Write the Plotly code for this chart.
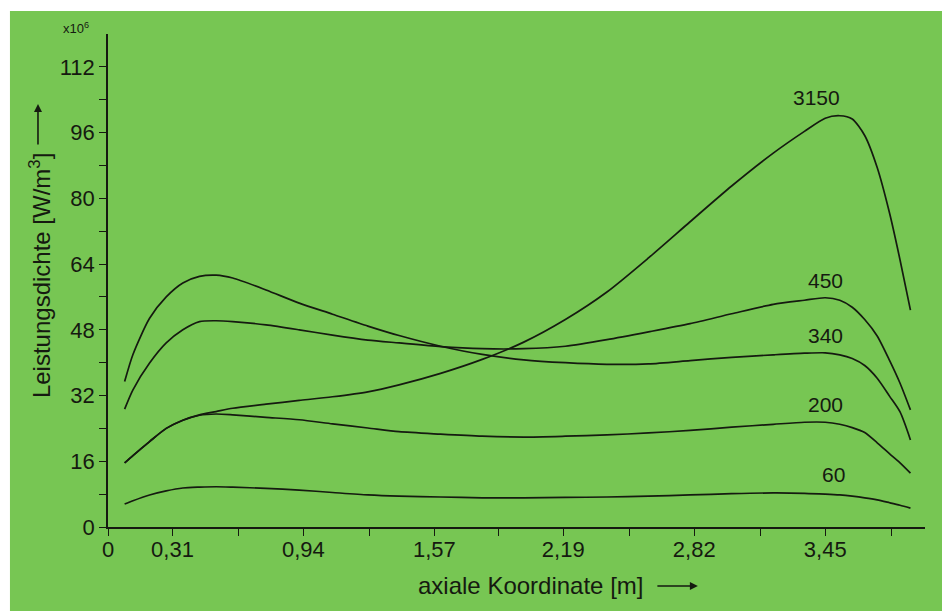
import plotly.graph_objects as go

# axial coordinate [m]
x = [0.08, 0.12, 0.20, 0.28, 0.36, 0.44, 0.52, 0.60, 0.76, 0.92, 1.08, 1.25, 1.40,
     1.60, 1.80, 2.00, 2.20, 2.40, 2.60, 2.80, 3.00, 3.20, 3.35, 3.45, 3.52, 3.58,
     3.64, 3.70, 3.76, 3.81, 3.86]

# power density [x10^6 W/m^3]
y_3150 = [15.6, 17.4, 20.8, 24.0, 26.0, 27.3, 28.1, 28.9, 29.9, 30.8, 31.7, 32.9, 34.6,
          37.4, 40.8, 45.0, 50.5, 57.2, 65.5, 74.3, 83.0, 91.0, 96.3, 99.5, 100.1, 99.3,
          95.3, 87.5, 76.3, 65.0, 52.8]
y_450 = [28.7, 33.4, 39.9, 44.8, 48.0, 50.0, 50.2, 50.0, 49.2, 48.0, 46.7, 45.5, 44.8,
         43.9, 43.4, 43.4, 44.0, 45.6, 47.5, 49.5, 51.9, 54.2, 55.2, 55.8, 55.2, 53.5,
         50.5, 46.5, 40.5, 35.0, 28.5]
y_340 = [35.4, 42.0, 50.8, 56.0, 59.4, 61.0, 61.3, 60.6, 57.7, 54.5, 51.8, 48.9, 46.6,
         44.0, 42.0, 40.7, 40.0, 39.6, 39.7, 40.5, 41.3, 41.9, 42.3, 42.4, 41.9, 41.0,
         39.3, 36.2, 31.8, 28.0, 21.2]
y_200 = [15.6, 17.4, 20.8, 24.0, 26.0, 27.2, 27.5, 27.3, 26.7, 26.1, 25.1, 24.1, 23.2,
         22.6, 22.1, 21.9, 22.1, 22.4, 22.9, 23.5, 24.3, 25.0, 25.5, 25.5, 25.0, 24.2,
         23.0, 20.5, 17.8, 15.6, 13.1]
y_60 = [5.6, 6.4, 7.8, 8.8, 9.5, 9.7, 9.8, 9.7, 9.4, 9.0, 8.4, 7.8, 7.5,
        7.3, 7.1, 7.1, 7.2, 7.3, 7.5, 7.8, 8.1, 8.3, 8.2, 8.0, 7.8, 7.5,
        7.1, 6.6, 5.9, 5.3, 4.6]

series_names = ["3150", "450", "340", "200", "60"]
series_values = [y_3150, y_450, y_340, y_200, y_60]

x_tickvals = [0, 0.31, 0.94, 1.57, 2.19, 2.82, 3.45]
x_ticktext = ["0", "0,31", "0,94", "1,57", "2,19", "2,82", "3,45"]
x_minorvals = [0.63, 1.26, 1.88, 2.51, 3.14, 3.77]
y_tickvals = [0, 16, 32, 48, 64, 80, 96, 112]
y_minorvals = [8, 24, 40, 56, 72, 88, 104]

# label anchor positions (data coords)
label_pos = {"3150": (3.41, 104.5), "450": (3.45, 60.1), "340": (3.45, 46.7),
             "200": (3.45, 29.7), "60": (3.49, 12.7)}

GREEN = "rgb(119,198,83)"
INK = "#151a10"
FONT = "Liberation Sans, Arial, Helvetica, sans-serif"

fig = go.Figure()
for name, vals in zip(series_names, series_values):
    fig.add_trace(go.Scatter(x=x, y=vals, mode="lines", name=name,
                             line=dict(color=INK, width=1.7, shape="spline", smoothing=0.7),
                             showlegend=False, hoverinfo="skip"))

annotations = []
for name in series_names:
    lx, ly = label_pos[name]
    annotations.append(dict(x=lx, y=ly, xref="x", yref="y", text=name, showarrow=False,
                            xanchor="center", yanchor="middle",
                            font=dict(size=21, color=INK, family=FONT)))

# axis titles
annotations.append(dict(xref="paper", yref="paper", x=0.5177, y=-0.1177,
                        xanchor="center", yanchor="middle",
                        text="axiale Koordinate [m]", showarrow=False,
                        font=dict(size=24, color=INK, family=FONT)))
annotations.append(dict(xref="paper", yref="paper", x=-0.0832, y=0.509,
                        xanchor="center", yanchor="middle",
                        text="Leistungsdichte [W/m<sup>3</sup>]", textangle=-90,
                        showarrow=False, font=dict(size=24, color=INK, family=FONT)))
annotations.append(dict(xref="paper", yref="paper", x=-0.039, y=1.012,
                        xanchor="center", yanchor="middle",
                        text="x10<sup>6</sup>", showarrow=False,
                        font=dict(size=13, color=INK, family=FONT)))
# arrows
annotations.append(dict(xref="paper", yref="paper", x=0.722, y=-0.1197, text="",
                        showarrow=True, ax=-42, ay=0, arrowhead=2, arrowsize=1,
                        arrowwidth=1.6, arrowcolor=INK))
annotations.append(dict(xref="paper", yref="paper", x=-0.0857, y=0.858, text="",
                        showarrow=True, ax=0, ay=42, arrowhead=2, arrowsize=1,
                        arrowwidth=1.6, arrowcolor=INK))

shapes = [dict(type="rect", xref="paper", yref="paper", x0=-0.12, x1=1.06,
               y0=-0.2, y1=1.0467, fillcolor=GREEN, line=dict(width=0), layer="below")]

# page body has an 8px margin, so the figure is laid out 8px smaller/offset
fig.update_layout(
    width=942, height=603,
    margin=dict(l=100, r=25, t=26, b=84),
    paper_bgcolor="white", plot_bgcolor="rgba(0,0,0,0)",
    font=dict(family=FONT, color=INK, size=22),
    shapes=shapes, annotations=annotations,
    xaxis=dict(range=[0, 3.93], showgrid=False, zeroline=False, showline=True,
               linecolor=INK, linewidth=1.5, ticks="outside", ticklen=7, tickwidth=1.3,
               tickcolor=INK, tickmode="array", tickvals=x_tickvals, ticktext=x_ticktext,
               ticklabelstandoff=-5,
               tickfont=dict(size=22, color=INK, family=FONT),
               minor=dict(tickmode="array", tickvals=x_minorvals, ticks="outside",
                          ticklen=7, tickwidth=1.3, tickcolor=INK, showgrid=False)),
    yaxis=dict(range=[0, 120], showgrid=False, zeroline=False, showline=True,
               linecolor=INK, linewidth=1.5, ticks="outside", ticklen=7, tickwidth=1.3,
               tickcolor=INK, tickmode="array", tickvals=y_tickvals,
               tickfont=dict(size=22, color=INK, family=FONT),
               minor=dict(tickmode="array", tickvals=y_minorvals, ticks="outside",
                          ticklen=7, tickwidth=1.3, tickcolor=INK, showgrid=False)),
)

fig.write_html("out.html")
